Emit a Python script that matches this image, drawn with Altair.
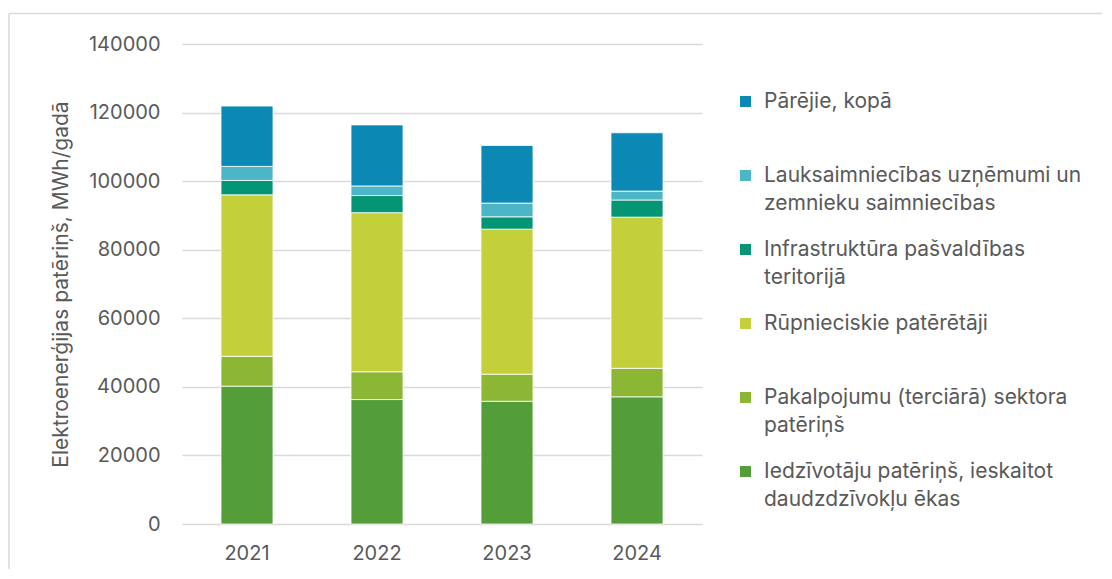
import altair as alt
import pandas as pd

years = ["2021", "2022", "2023", "2024"]
categories = [
    "Iedzīvotāju patēriņš, ieskaitot daudzdzīvokļu ēkas",
    "Pakalpojumu (terciārā) sektora patēriņš",
    "Rūpnieciskie patērētāji",
    "Infrastruktūra pašvaldības teritorijā",
    "Lauksaimniecības uzņēmumi un zemnieku saimniecības",
    "Pārējie, kopā",
]
iedzivotaji = [40200, 36300, 35800, 37100]
pakalpojumi = [8700, 8100, 7900, 8300]
rupnieciskie = [47100, 46400, 42300, 44100]
infrastruktura = [4200, 5000, 3600, 5000]
lauksaimniecibas = [4100, 2800, 4000, 2600]
parejie = [17600, 17800, 16800, 17000]
series = [iedzivotaji, pakalpojumi, rupnieciskie, infrastruktura, lauksaimniecibas, parejie]
colors = ["#539E39", "#8BB734", "#C3D039", "#049574", "#4CB5C6", "#0B89B4"]

# legend text wrapping (as in the original legend)
wrapped = {
    "Pārējie, kopā": ["Pārējie, kopā", ""],
    "Lauksaimniecības uzņēmumi un zemnieku saimniecības": ["Lauksaimniecības uzņēmumi un", "zemnieku saimniecības"],
    "Infrastruktūra pašvaldības teritorijā": ["Infrastruktūra pašvaldības", "teritorijā"],
    "Rūpnieciskie patērētāji": ["Rūpnieciskie patērētāji", ""],
    "Pakalpojumu (terciārā) sektora patēriņš": ["Pakalpojumu (terciārā) sektora", "patēriņš"],
    "Iedzīvotāju patēriņš, ieskaitot daudzdzīvokļu ēkas": ["Iedzīvotāju patēriņš, ieskaitot", "daudzdzīvokļu ēkas"],
}
expr = "datum.label"
for k, v in wrapped.items():
    expr = f"datum.label == '{k}' ? ['{v[0]}', '{v[1]}'] : ({expr})"

rows = []
for ci, (cat, vals) in enumerate(zip(categories, series)):
    for y, v in zip(years, vals):
        rows.append({"Gads": y, "Kategorija": cat, "Vērtība": v, "idx": ci})
df = pd.DataFrame(rows)

FONT = "Inter"
GRAY = "#595959"

bars = alt.Chart(df).mark_bar(stroke="white", strokeWidth=0.8).encode(
    x=alt.X("Gads:N", title=None,
            scale=alt.Scale(paddingInner=0.6, paddingOuter=0.3),
            axis=alt.Axis(labelAngle=0, labelPadding=19, ticks=False, domain=False,
                          labelFontSize=20, labelColor=GRAY, labelFont=FONT)),
    y=alt.Y("Vērtība:Q", stack="zero",
            title="Elektroenerģijas patēriņš, MWh/gadā",
            scale=alt.Scale(domain=[0, 140000]),
            axis=alt.Axis(values=list(range(0, 140001, 20000)), format="d",
                          ticks=False, domain=False, labelPadding=22,
                          labelFontSize=20, labelColor=GRAY, labelFont=FONT,
                          titleFontSize=21, titleColor=GRAY, titleFont=FONT,
                          titleFontWeight="normal", titlePadding=17,
                          gridColor="#D9D9D9", gridWidth=1.5)),
    color=alt.Color("Kategorija:N",
                    scale=alt.Scale(domain=categories[::-1], range=colors[::-1]),
                    legend=alt.Legend(title=None, orient="none", legendX=553, legendY=47,
                                      symbolType="square", symbolSize=120, symbolStrokeWidth=0,
                                      labelFontSize=21, labelColor=GRAY, labelFont=FONT,
                                      labelExpr=expr, labelLimit=420, labelBaseline="middle",
                                      labelOffset=8, rowPadding=24, padding=0)),
    order=alt.Order("idx:Q", sort="ascending"),
)

frame_df = pd.DataFrame({"f": [0]})
frame_top = alt.Chart(frame_df).mark_rule(color="#D9D9D9", strokeWidth=1.5).encode(
    x=alt.value(-173), x2=alt.value(960), y=alt.value(-30.5))
frame_left = alt.Chart(frame_df).mark_rule(color="#D9D9D9", strokeWidth=1.5).encode(
    x=alt.value(-173), y=alt.value(-30.5), y2=alt.value(560))

chart = alt.layer(frame_top, frame_left, bars).properties(
    width=520, height=480,
    padding={"left": 174, "top": 36, "right": 400, "bottom": 45},
    autosize=alt.AutoSizeParams(type="none"),
).configure(style={"guide-label": {"lineHeight": 28}}).configure_view(stroke=None)

chart.save("out.html", embed_options={"renderer": "svg", "actions": False})
